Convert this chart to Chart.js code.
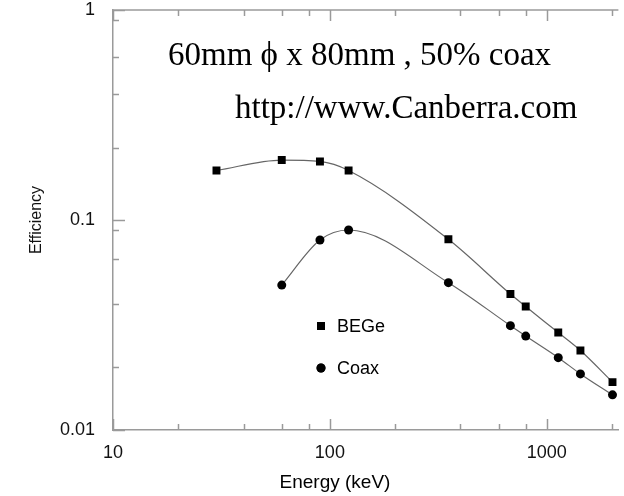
<!DOCTYPE html>
<html>
<head>
<meta charset="utf-8">
<script src="https://cdn.jsdelivr.net/npm/chart.js@4/dist/chart.umd.min.js"></script>
<style>
  html, body { margin: 0; padding: 0; background: #fff; }
  #wrap { width: 624px; height: 496px; }
</style>
</head>
<body>
<div id="wrap"><canvas id="eff_chart" width="624" height="496"></canvas></div>
<script>
// data
const energyBEGe = [30, 60, 90, 122, 352, 680, 800, 1130, 1430, 2010];
const effBEGe    = [0.172, 0.193, 0.190, 0.172, 0.0809, 0.0444, 0.0387, 0.0291, 0.0239, 0.0169];
const energyCoax = [60, 90, 122, 352, 680, 800, 1130, 1430, 2010];
const effCoax    = [0.049, 0.0803, 0.0896, 0.0503, 0.0314, 0.0280, 0.0221, 0.0185, 0.0147];

const seriesNames = ["BEGe", "Coax"];
const xMajor = [10, 100, 1000];
const xMinor = [20, 40, 60, 80, 200, 400, 600, 800, 2000];
const yMajor = [0.01, 0.1, 1];
const yMinor = [0.02, 0.04, 0.065, 0.09, 0.22, 0.4, 0.6, 0.9];
const noteLines = ["60mm \u03D5 x 80mm , 50% coax", "http://www.Canberra.com"];

const axisGray = "#9a9a9a";
const sans = "'Liberation Sans', Arial, Helvetica, sans-serif";

function toPoints(xs, ys) {
    return xs.map((x, i) => ({x: x, y: ys[i]}));
}

// inward ticks, top frame line, notes, legend, x title
const decorations = {
    id: "decorations",
    afterDatasetsDraw(chart) {
        const ctx = chart.ctx;
        const a = chart.chartArea;
        const xs = chart.scales.x, ys = chart.scales.y;
        ctx.save();
        ctx.strokeStyle = axisGray;
        ctx.lineWidth = 1.5;
        ctx.beginPath();
        ctx.moveTo(a.left, a.top);
        ctx.lineTo(a.right, a.top);
        xMajor.concat(xMinor).forEach(v => {
            const px = Math.round(xs.getPixelForValue(v)) + 0.5;
            const len = xMajor.includes(v) ? 11 : 6;
            ctx.moveTo(px, a.bottom);
            ctx.lineTo(px, a.bottom - len);
            ctx.moveTo(px, a.top);
            ctx.lineTo(px, a.top + len);
        });
        yMajor.concat(yMinor).forEach(v => {
            const py = Math.round(ys.getPixelForValue(v)) + 0.5;
            const len = yMajor.includes(v) ? 12 : 6;
            ctx.moveTo(a.left, py);
            ctx.lineTo(a.left + len, py);
        });
        ctx.stroke();

        // notes
        ctx.fillStyle = "#000";
        ctx.font = "33px 'Liberation Serif', 'Times New Roman', serif";
        ctx.textBaseline = "alphabetic";
        ctx.textAlign = "left";
        ctx.fillText(noteLines[0], 168, 65);
        ctx.fillText(noteLines[1], 235, 118);

        // legend
        ctx.font = "18px " + sans;
        ctx.textBaseline = "middle";
        chart.data.datasets.forEach((ds, i) => {
            const lx = 321, ly = 326 + i * 42;
            ctx.fillStyle = "#000";
            Chart.helpers.drawPoint(ctx, {
                pointStyle: ds.pointStyle, radius: ds.pointRadius, rotation: 0, borderWidth: 0
            }, lx, ly);
            ctx.fill();
            ctx.fillText(ds.label, 337, ly + 1);
        });

        // x title
        ctx.font = "19px " + sans;
        ctx.textAlign = "center";
        ctx.textBaseline = "alphabetic";
        ctx.fillText("Energy (keV)", 335, 488);
        ctx.restore();
    }
};

let ctx1 = document.getElementById("eff_chart");
let eff_chart = new Chart(ctx1, {
    type: "line",
    plugins: [decorations],
    data: {
        datasets: [
            {
                label: seriesNames[0],
                data: toPoints(energyBEGe, effBEGe),
                pointStyle: "rect",
                pointRadius: 5.6,
                pointBackgroundColor: "#000",
                pointBorderWidth: 0,
                borderColor: "#666",
                borderWidth: 1.2,
                cubicInterpolationMode: "monotone"
            },
            {
                label: seriesNames[1],
                data: toPoints(energyCoax, effCoax),
                pointStyle: "circle",
                pointRadius: 4.5,
                pointBackgroundColor: "#000",
                pointBorderWidth: 0,
                borderColor: "#666",
                borderWidth: 1.2,
                cubicInterpolationMode: "monotone"
            }
        ]
    },
    options: {
        responsive: false,
        animation: false,
        layout: { padding: { top: 10, right: 0, left: 0, bottom: 0 } },
        plugins: {
            legend: { display: false },
            tooltip: { enabled: false }
        },
        scales: {
            x: {
                type: "logarithmic",
                min: 10,
                max: 2140,
                afterBuildTicks: s => { s.ticks = xMajor.concat(xMinor).sort((p, q) => p - q).map(v => ({value: v})); },
                afterFit: s => { s.height = 66; s.paddingLeft = 0; s.paddingRight = 0; },
                grid: { display: false, drawTicks: false },
                border: { display: true, color: axisGray, width: 1.5 },
                ticks: {
                    autoSkip: false,
                    maxRotation: 0,
                    padding: 12,
                    color: "#111",
                    font: { family: sans, size: 18 },
                    callback: v => xMajor.includes(v) ? String(v) : ""
                }
            },
            y: {
                type: "logarithmic",
                min: 0.01,
                max: 1,
                afterBuildTicks: s => { s.ticks = yMajor.concat(yMinor).sort((p, q) => p - q).map(v => ({value: v})); },
                afterFit: s => { s.width = 113; s.paddingTop = 0; s.paddingBottom = 0; },
                grid: { display: false, drawTicks: false },
                border: { display: true, color: axisGray, width: 1.5 },
                title: {
                    display: true,
                    text: "Efficiency",
                    color: "#111",
                    font: { family: sans, size: 16 },
                    padding: { top: 27, bottom: 0 }
                },
                ticks: {
                    autoSkip: false,
                    padding: 18,
                    color: "#111",
                    font: { family: sans, size: 18 },
                    callback: v => yMajor.includes(v) ? String(v) : ""
                }
            }
        }
    }
});
</script>
</body>
</html>
